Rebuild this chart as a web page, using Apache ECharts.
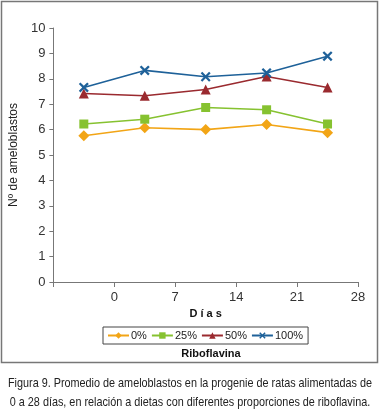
<!DOCTYPE html>
<html>
<head>
<meta charset="utf-8">
<script src="https://cdn.jsdelivr.net/npm/echarts@6/dist/echarts.min.js"></script>
<style>
  html, body { margin: 0; padding: 0; background: #fff; }
  #chart { width: 380px; height: 415px; }
</style>
</head>
<body>
<div id="chart"></div>
<script>
  // días (punto medio de cada semana)
  var dias = [-3.5, 3.5, 10.5, 17.5, 24.5]
  var serie0 = [5.76, 6.07, 6.0, 6.2, 5.88]
  var serie25 = [6.22, 6.41, 6.87, 6.78, 6.22]
  var serie50 = [7.42, 7.33, 7.58, 8.09, 7.66]
  var serie100 = [7.66, 8.33, 8.08, 8.23, 8.89]
  var nombres = ['0%', '25%', '50%', '100%']
  var pie1 = 'Figura 9. Promedio de ameloblastos en la progenie de ratas alimentadas de'
  var pie2 = '0 a 28 días, en relación a dietas con diferentes proporciones de riboflavina.'

  var font = 'Liberation Sans, Arial, sans-serif'
  var cruz = 'path://M0,1.6L1.6,0L5,3.4L8.4,0L10,1.6L6.6,5L10,8.4L8.4,10L5,6.6L1.6,10L0,8.4L3.4,5Z'

  // el pie de figura usa una letra estrecha: se comprime a lo ancho
  var ctx = document.createElement('canvas').getContext('2d')
  ctx.font = '13px ' + font
  var escala = 364 / ctx.measureText(pie1).width

  function pares(vals) {
    return vals.map(function (v, i) { return [dias[i], v] })
  }

  function linea(name, vals, color, symbol, size) {
    return {
      type: 'line',
      name: name,
      data: pares(vals),
      symbol: symbol,
      symbolSize: size,
      showSymbol: true,
      lineStyle: { color: color, width: 1.6 },
      itemStyle: { color: color },
      emphasis: { disabled: true },
      animation: false
    }
  }

  var myChart = echarts.init(document.getElementById('chart'))
  var option = {
    backgroundColor: '#fff',
    textStyle: { fontFamily: font },
    grid: { left: 49, right: 22, top: 28, bottom: 133, containLabel: false },
    legend: {
      left: 103,
      top: 327,
      padding: [3, 5, 3, 4],
      borderColor: '#444',
      borderWidth: 1,
      itemWidth: 21,
      itemHeight: 8,
      itemGap: 4,
      textStyle: { color: '#222', fontSize: 11, fontFamily: font, padding: [0, 0, 0, -3] },
      data: nombres
    },
    xAxis: {
      type: 'value',
      min: -7,
      max: 28,
      interval: 7,
      name: 'D í a s',
      nameLocation: 'middle',
      nameGap: 24,
      nameTextStyle: { color: '#111', fontSize: 11, fontWeight: 'bold', fontFamily: font },
      splitLine: { show: false },
      axisLine: { onZero: false, lineStyle: { color: '#777' } },
      axisTick: { length: 5, lineStyle: { color: '#777' } },
      axisLabel: {
        color: '#333', fontSize: 13, margin: 9, fontFamily: font,
        formatter: function (v) { return v < 0 ? '' : v }
      }
    },
    yAxis: {
      type: 'value',
      min: 0,
      max: 10,
      interval: 1,
      name: 'Nº de ameloblastos',
      nameLocation: 'middle',
      nameGap: 29,
      nameTextStyle: { color: '#222', fontSize: 12, fontFamily: font },
      splitLine: { show: false },
      axisLine: { show: true, onZero: false, lineStyle: { color: '#777' } },
      axisTick: { show: true, length: 4, lineStyle: { color: '#777' } },
      axisLabel: { color: '#333', fontSize: 13, margin: 8, fontFamily: font }
    },
    series: [
      linea('0%', serie0, '#F2A516', 'diamond', 11),
      linea('25%', serie25, '#86C230', 'rect', 9),
      linea('50%', serie50, '#9A2A2F', 'triangle', 10),
      linea('100%', serie100, '#1E6199', cruz, 10)
    ],
    graphic: [
      {
        type: 'rect',
        shape: { x: 1.5, y: 1.5, width: 376, height: 361 },
        style: { fill: null, stroke: '#777', lineWidth: 1.5 },
        silent: true
      },
      {
        type: 'text',
        x: 211,
        y: 354,
        style: {
          text: 'Riboflavina', fill: '#111', font: 'bold 11px ' + font,
          textAlign: 'center', textVerticalAlign: 'middle'
        }
      },
      {
        type: 'text',
        x: 190,
        y: 383,
        scaleX: escala,
        style: {
          text: pie1,
          fill: '#222', font: '13px ' + font, textAlign: 'center', textVerticalAlign: 'middle'
        }
      },
      {
        type: 'text',
        x: 190,
        y: 402,
        scaleX: escala,
        style: {
          text: pie2,
          fill: '#222', font: '13px ' + font, textAlign: 'center', textVerticalAlign: 'middle'
        }
      }
    ]
  }
  myChart.setOption(option)
</script>
</body>
</html>
